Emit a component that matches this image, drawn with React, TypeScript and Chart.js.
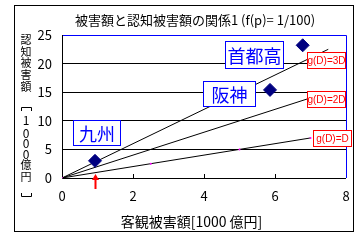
import React, { useEffect, useRef } from 'react';
import { Chart, registerables } from 'chart.js';

Chart.register(...registerables);

// ---- data ----
const regions = ['九州', '阪神', '首都高'];
const objectiveDamage = [0.93, 5.86, 6.78];
const perceivedDamage = [3.0, 15.4, 23.2];

const lineDX = [0, 2.5, 5, 7];
const lineDY = [0, 2.5, 5, 7];
const line2DX = [0, 7];
const line2DY = [0, 14];
const line3DX = [0, 7.5];
const line3DY = [0, 22.5];
const refLabels = ['g(D)=D', 'g(D)=2D', 'g(D)=3D'];

const xTicks = [0, 2, 4, 6, 8];
const yTicks = [0, 5, 10, 15, 20, 25];

const titleText = '被害額と認知被害額の関係1 (f(p)= 1/100)';
const xTitle = '客観被害額[1000 億円]';
const yTitleChars = ['認', '知', '被', '害', '額', '［', '1', '0', '0', '0', '億', '円', '］'];

// ---- layout / style ----
const FONT = '"Noto Sans CJK JP", "Noto Sans", sans-serif';
const BLUE = '#0000FF';
const RED = '#FF0000';
const NAVY = '#000080';
const calloutOffsets = [[1, -28], [-41, 3.5], [-48.5, 9.7]];
const calloutSizes = [[47, 25], [52, 25], [58, 27]];
// ref label anchors: [right edge (x data), centre (y data)]
const refAnchors = [[8.13, 7.08], [7.97, 13.78], [7.97, 20.63]];
const yTitleCenters = [40, 51.5, 63, 75, 87, 109, 120, 133, 143.5, 154, 164.5, 176.5, 195];

const pts = (xs: number[], ys: number[]) => xs.map((x, i) => ({ x, y: ys[i] }));

const decor = {
  id: 'decor',
  beforeDraw(chart: any) {
    const ctx = chart.ctx;
    ctx.save();
    ctx.fillStyle = '#fff';
    ctx.fillRect(0, 0, chart.width, chart.height);
    ctx.strokeStyle = '#000';
    ctx.lineWidth = 1;
    ctx.strokeRect(14.5, 5.5, 339, 226);
    ctx.restore();
  },
  beforeDatasetsDraw(chart: any) {
    const { ctx, chartArea: a, scales } = chart;
    const x = scales.x;
    ctx.save();
    ctx.lineWidth = 1;
    ctx.strokeStyle = BLUE;
    ctx.beginPath();
    ctx.moveTo(a.left, a.top + 0.5);
    ctx.lineTo(a.right + 0.5, a.top + 0.5);
    ctx.lineTo(a.right + 0.5, a.bottom);
    ctx.stroke();
    ctx.strokeStyle = '#000';
    ctx.beginPath();
    ctx.moveTo(a.left + 0.5, a.top);
    ctx.lineTo(a.left + 0.5, a.bottom + 0.5);
    ctx.lineTo(a.right, a.bottom + 0.5);
    for (const v of xTicks) {
      if (v === xTicks[0] || v === xTicks[xTicks.length - 1]) continue;
      const px = Math.round(x.getPixelForValue(v)) + 0.5;
      ctx.moveTo(px, a.bottom);
      ctx.lineTo(px, a.bottom - 4);
    }
    ctx.stroke();
    ctx.restore();
  },
  afterDatasetsDraw(chart: any) {
    const { ctx, chartArea: a, scales } = chart;
    const x = scales.x, y = scales.y;
    ctx.save();
    // blue callouts
    ctx.font = `18px ${FONT}`;
    ctx.textAlign = 'center';
    ctx.textBaseline = 'middle';
    regions.forEach((r, i) => {
      const px = x.getPixelForValue(objectiveDamage[i]) + calloutOffsets[i][0];
      const py = y.getPixelForValue(perceivedDamage[i]) + calloutOffsets[i][1];
      const [w, h] = calloutSizes[i];
      const l = Math.round(px - w / 2) + 0.5, t = Math.round(py - h / 2) + 0.5;
      ctx.fillStyle = '#fff';
      ctx.fillRect(l, t, w, h);
      ctx.strokeStyle = BLUE;
      ctx.lineWidth = 1;
      ctx.strokeRect(l, t, w, h);
      ctx.fillStyle = BLUE;
      ctx.fillText(r, l + w / 2, t + h / 2 + 1);
    });
    // red ref labels
    ctx.font = `10px "Liberation Sans", sans-serif`;
    refLabels.forEach((lab, i) => {
      const rx = x.getPixelForValue(refAnchors[i][0]);
      const cy = y.getPixelForValue(refAnchors[i][1]);
      const w = 38, h = 16;
      const l = Math.round(rx - w) + 0.5, t = Math.round(cy - h / 2) + 0.5;
      ctx.fillStyle = '#fff';
      ctx.fillRect(l, t, w, h);
      ctx.strokeStyle = RED;
      ctx.strokeRect(l, t, w, h);
      ctx.fillStyle = RED;
      ctx.fillText(lab, l + w / 2, t + h / 2 + 0.5);
    });
    // red arrow under kyushu
    const ax = Math.round(x.getPixelForValue(objectiveDamage[0]));
    ctx.fillStyle = RED;
    ctx.beginPath();
    ctx.moveTo(ax + 0.5, a.bottom - 4);
    ctx.lineTo(ax + 4, a.bottom + 2);
    ctx.lineTo(ax - 3, a.bottom + 2);
    ctx.closePath();
    ctx.fill();
    ctx.fillRect(ax - 0.5, a.bottom + 1, 2, 10);
    ctx.restore();
  },
  afterDraw(chart: any) {
    const ctx = chart.ctx;
    ctx.save();
    ctx.fillStyle = '#000';
    ctx.textAlign = 'center';
    ctx.textBaseline = 'middle';
    ctx.font = `13px ${FONT}`;
    ctx.fillText(titleText, 195, 20);
    ctx.font = `14px ${FONT}`;
    ctx.fillText(xTitle, 191.5, 222);
    // vertical y title
    const cx = 26;
    yTitleChars.forEach((c, i) => {
      const cy = yTitleCenters[i];
      if (c === '［' || c === '］') {
        ctx.strokeStyle = '#000';
        ctx.lineWidth = 1;
        ctx.beginPath();
        if (c === '［') {
          ctx.moveTo(21.5, cy + 2); ctx.lineTo(21.5, cy - 1.5); ctx.lineTo(31.5, cy - 1.5); ctx.lineTo(31.5, cy + 2);
        } else {
          ctx.moveTo(21.5, cy - 2); ctx.lineTo(21.5, cy + 1.5); ctx.lineTo(31.5, cy + 1.5); ctx.lineTo(31.5, cy - 2);
        }
        ctx.stroke();
      } else {
        ctx.font = /[0-9]/.test(c) ? `12px ${FONT}` : `11px ${FONT}`;
        ctx.fillText(c, cx, cy);
      }
    });
    ctx.restore();
  },
};

export default function App() {
  const ref = useRef<HTMLCanvasElement | null>(null);
  useEffect(() => {
    if (!ref.current) return;
    Chart.defaults.font.family = FONT;
    const chart = new Chart(ref.current, {
      type: 'scatter',
      data: {
        datasets: [
          {
            label: '被害額',
            data: pts(objectiveDamage, perceivedDamage),
            pointStyle: 'rectRot',
            pointRadius: 6.5,
            backgroundColor: NAVY,
            borderColor: NAVY,
            showLine: false,
          },
          {
            label: refLabels[0],
            data: pts(lineDX, lineDY),
            showLine: true,
            borderColor: '#000',
            borderWidth: 1,
            pointRadius: 1,
            pointBackgroundColor: '#FF00FF',
            pointBorderColor: '#FF00FF',
            pointBorderWidth: 0,
          },
          {
            label: refLabels[1],
            data: pts(line2DX, line2DY),
            showLine: true,
            borderColor: '#000',
            borderWidth: 1,
            pointRadius: 0,
          },
          {
            label: refLabels[2],
            data: pts(line3DX, line3DY),
            showLine: true,
            borderColor: '#000',
            borderWidth: 1,
            pointRadius: 0,
          },
        ],
      },
      options: {
        responsive: false,
        animation: false,
        devicePixelRatio: 1,
        layout: { padding: { left: 0, top: 35, right: 17, bottom: 0 } },
        plugins: { legend: { display: false }, tooltip: { enabled: false }, title: { display: false } },
        scales: {
          x: {
            type: 'linear',
            min: xTicks[0],
            max: xTicks[xTicks.length - 1],
            afterBuildTicks: (s: any) => { s.ticks = xTicks.map((v) => ({ value: v })); },
            ticks: { color: '#000', font: { size: 13, family: FONT }, padding: 10, maxRotation: 0 },
            grid: { display: false, drawTicks: false },
            border: { display: false },
            afterFit: (s: any) => { s.height = 64; },
          },
          y: {
            type: 'linear',
            min: yTicks[0],
            max: yTicks[yTicks.length - 1],
            afterBuildTicks: (s: any) => { s.ticks = yTicks.map((v) => ({ value: v })); },
            ticks: { color: '#000', font: { size: 13, family: FONT }, padding: 10 },
            grid: {
              drawTicks: false,
              color: (c: any) => (c.tick && c.tick.value > yTicks[0] && c.tick.value < yTicks[yTicks.length - 1] ? '#000' : 'rgba(0,0,0,0)'),
              lineWidth: 1,
            },
            border: { display: false },
            afterFit: (s: any) => { s.width = 62; },
          },
        },
      },
      plugins: [decor],
    });
    return () => chart.destroy();
  }, []);
  return (
    <div style={{ position: 'fixed', left: 0, top: 0, width: 363, height: 242, background: '#fff' }}>
      <canvas ref={ref} width={363} height={242} style={{ display: 'block' }} />
    </div>
  );
}
